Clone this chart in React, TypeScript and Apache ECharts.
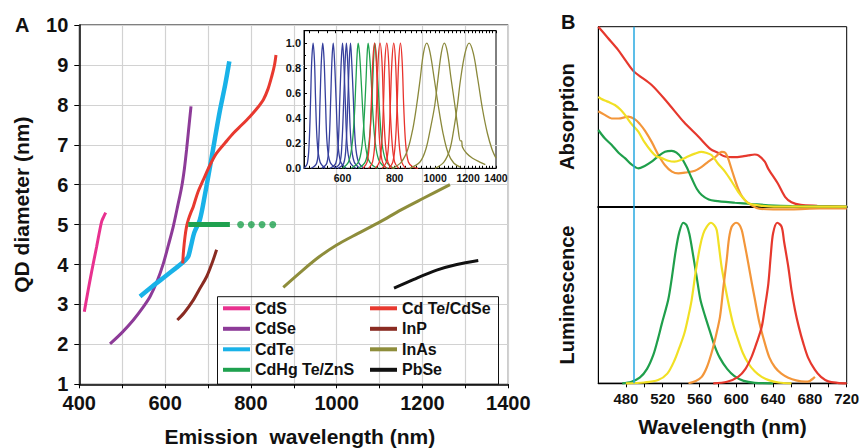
import React, { useEffect, useRef } from "react";
import * as echarts from "echarts";

// ---------------- Panel A: QD diameter vs emission wavelength ----------------
const cdS = [[411.7, 2.82], [418, 3.2], [425, 3.61], [433, 4.05], [440.5, 4.45], [447, 4.82], [452.2, 5.08], [457, 5.2], [461.5, 5.3]];
const cdSe = [[471.6, 2.01], [500, 2.3], [526, 2.61], [548, 2.92], [565, 3.2], [582, 3.6], [596, 4.03], [608, 4.5], [619, 4.95], [630, 5.5], [638.7, 5.95], [645, 6.4], [650, 6.87], [655, 7.4], [660.4, 7.96]];
const cdTe = [[541.5, 3.2], [570, 3.45], [600, 3.7], [625, 3.91], [639, 4.03], [648, 4.12], [654, 4.2], [660, 4.45], [668, 4.8], [681, 5.12], [692, 5.7], [704.7, 6.45], [716, 7.15], [728, 7.87], [740, 8.5], [749.7, 9.09]];
const cdTeCdSe = [[641, 4.03], [643, 4.35], [646.4, 4.7], [650, 4.95], [654, 5.12], [660, 5.3], [665.7, 5.45], [676, 5.8], [689, 6.12], [705, 6.5], [720, 6.79], [740, 7.05], [759, 7.29], [779, 7.5], [798, 7.71], [815, 7.92], [829, 8.13], [840, 8.4], [848.5, 8.71], [855, 9.0], [858.5, 9.25]];
const cdHgTeLine = [[654, 5], [751, 5]];
const cdHgTeDots = [[776, 5], [801, 5], [826, 5], [851, 5]];
const inP = [[628.5, 2.61], [645, 2.8], [665.7, 3.11], [680, 3.38], [697, 3.7], [710, 4.05], [720, 4.37]];
const inAs = [[875.5, 3.43], [920, 3.85], [960, 4.2], [1000, 4.49], [1050, 4.78], [1101, 5.07], [1150, 5.37], [1202, 5.66], [1264, 6.0]];
const pbSe = [[1133.6, 3.41], [1180, 3.63], [1233, 3.86], [1280, 4.0], [1330, 4.1]];

const legendColumnLeft = ["CdS", "CdSe", "CdTe", "CdHg Te/ZnS"];
const legendColumnRight = ["Cd Te/CdSe", "InP", "InAs", "PbSe"];

// ---------------- Inset: normalized emission spectra (log wavelength axis) ----------------
const insetBlue = [
  [[485, 0.0], [494, 0.04], [499, 0.2], [503, 0.55], [506, 0.85], [510, 1.0], [514, 0.85], [517, 0.55], [522, 0.2], [530, 0.05], [545, 0.0]],
  [[505, 0.0], [520, 0.04], [526, 0.2], [530, 0.55], [534, 0.87], [538, 1.0], [542, 0.86], [546, 0.55], [551, 0.2], [560, 0.05], [578, 0.0]],
  [[535, 0.0], [550, 0.04], [557, 0.2], [562, 0.55], [566, 0.87], [570, 1.0], [574, 0.86], [579, 0.55], [585, 0.2], [594, 0.05], [612, 0.0]],
  [[560, 0.0], [578, 0.04], [586, 0.2], [591, 0.55], [596, 0.87], [600, 1.0], [604, 0.86], [609, 0.55], [615, 0.2], [625, 0.05], [645, 0.0]],
  [[575, 0.0], [591, 0.04], [598, 0.2], [604, 0.55], [609, 0.87], [613, 1.0], [617, 0.86], [622, 0.55], [629, 0.2], [640, 0.05], [660, 0.0]],
  [[585, 0.0], [604, 0.04], [612, 0.2], [618, 0.55], [623, 0.87], [627, 1.0], [631, 0.86], [637, 0.55], [644, 0.2], [655, 0.05], [675, 0.0]],
];
const insetGreen = [
  [[600, 0.0], [620, 0.05], [632, 0.18], [640, 0.4], [646, 0.7], [650, 0.9], [654, 1.0], [659, 0.92], [665, 0.7], [672, 0.42], [680, 0.2], [692, 0.07], [710, 0.02], [730, 0.0]],
  [[630, 0.0], [655, 0.05], [668, 0.18], [676, 0.4], [683, 0.7], [687, 0.9], [691, 1.0], [696, 0.92], [703, 0.7], [710, 0.42], [719, 0.2], [732, 0.07], [750, 0.02], [770, 0.0]],
  [[655, 0.0], [680, 0.05], [693, 0.18], [702, 0.4], [709, 0.7], [713, 0.9], [717, 1.0], [722, 0.92], [729, 0.7], [737, 0.42], [746, 0.2], [760, 0.07], [778, 0.02], [800, 0.0]],
];
const insetRed = [
  [[672, 0], [687, 0.05], [696, 0.2], [703, 0.5], [709, 0.85], [716, 1], [723, 0.85], [729, 0.5], [737, 0.2], [748, 0.05], [765, 0]],
  [[693, 0], [708, 0.05], [717, 0.2], [724, 0.5], [730, 0.85], [738, 1], [746, 0.85], [752, 0.5], [760, 0.2], [771, 0.05], [788, 0]],
  [[719, 0], [735, 0.05], [745, 0.2], [752, 0.5], [758, 0.85], [766, 1], [774, 0.85], [780, 0.5], [789, 0.2], [800, 0.05], [818, 0]],
  [[747, 0], [764, 0.05], [774, 0.2], [781, 0.5], [788, 0.85], [796, 1], [804, 0.85], [811, 0.5], [820, 0.2], [832, 0.05], [850, 0]],
  [[775, 0], [792, 0.05], [803, 0.2], [811, 0.5], [818, 0.85], [826, 1], [834, 0.85], [841, 0.5], [850, 0.2], [863, 0.05], [885, 0.01], [910, 0]],
];
const insetOlive = [
  [[790, 0.0], [830, 0.05], [860, 0.15], [885, 0.32], [903, 0.5], [920, 0.7], [938, 0.92], [955, 1.0], [972, 0.93], [995, 0.72], [1018, 0.5], [1045, 0.28], [1075, 0.12], [1110, 0.04], [1150, 0.01]],
  [[870, 0.0], [920, 0.05], [950, 0.15], [975, 0.32], [998, 0.5], [1015, 0.7], [1035, 0.92], [1052, 1.0], [1070, 0.93], [1092, 0.72], [1116, 0.5], [1135, 0.32], [1150, 0.22], [1158, 0.22], [1163, 0.17], [1190, 0.12], [1230, 0.08], [1280, 0.05], [1320, 0.03]],
  [[1000, 0.0], [1050, 0.05], [1085, 0.15], [1110, 0.32], [1131, 0.5], [1150, 0.7], [1180, 0.92], [1207, 1.0], [1235, 0.92], [1265, 0.72], [1300, 0.47], [1335, 0.28], [1370, 0.15], [1400, 0.08]],
];
const insetXLabels = [600, 800, 1000, 1200, 1400];
const insetXMin = 485;
const insetXMax = 1400;

// ---------------- Panel B: absorption and luminescence ----------------
const absGreen = [[450, 0.426], [457, 0.38], [464.6, 0.343], [472, 0.3], [479, 0.27], [486, 0.235], [493.5, 0.213], [500, 0.225], [508, 0.25], [515, 0.28], [522.5, 0.305], [529.8, 0.31], [535, 0.3], [540.6, 0.27], [546, 0.22], [551.5, 0.158], [557, 0.1], [562.4, 0.065], [570, 0.04], [577, 0.032], [598.6, 0.022], [616.7, 0.015], [634.8, 0.008], [660, 0.003], [720, 0.0]];
const absYellow = [[450, 0.61], [453, 0.6], [457, 0.59], [462, 0.58], [468, 0.565], [474, 0.54], [479, 0.51], [486, 0.46], [493.5, 0.417], [500, 0.36], [508, 0.305], [513, 0.28], [519, 0.27], [526, 0.255], [533, 0.25], [540, 0.26], [548, 0.28], [555, 0.295], [562, 0.305], [567, 0.3], [573, 0.287], [580, 0.24], [587.7, 0.195], [595, 0.14], [602, 0.083], [608, 0.045], [613, 0.02], [620, 0.01], [627.6, 0.005], [650, 0.0], [720, 0.0]];
const absOrange = [[450, 0.53], [457, 0.51], [464.5, 0.49], [472, 0.49], [482.6, 0.5], [490, 0.485], [495, 0.46], [501, 0.42], [508, 0.36], [515, 0.29], [522.5, 0.23], [530, 0.195], [537, 0.185], [545, 0.19], [555, 0.2], [562, 0.22], [569.6, 0.25], [578, 0.28], [584, 0.305], [588, 0.3], [591, 0.27], [596, 0.19], [602, 0.1], [607, 0.05], [613, 0.02], [624, -0.01], [640, -0.015], [660, -0.015], [690, -0.01], [720, -0.01]];
const absRed = [[450, 1.0], [460, 0.94], [471.7, 0.87], [480, 0.81], [489, 0.75], [508, 0.676], [525, 0.58], [543, 0.47], [558.7, 0.39], [572, 0.32], [580, 0.3], [587, 0.28], [598.6, 0.275], [607, 0.28], [613, 0.285], [620, 0.29], [624, 0.285], [631, 0.25], [634.8, 0.21], [645, 0.13], [653, 0.055], [660, 0.025], [670, 0.01], [688, 0.005], [720, 0.0]];

const lumGreen = [[476, 0], [486, 0.01], [495, 0.035], [503, 0.09], [510, 0.18], [515, 0.28], [519, 0.37], [526, 0.52], [530, 0.66], [534, 0.82], [538, 0.94], [542.4, 1.0], [546, 0.985], [549, 0.93], [553, 0.8], [557, 0.66], [561, 0.52], [566, 0.42], [571, 0.33], [576, 0.24], [582, 0.16], [590, 0.09], [598, 0.045], [608, 0.015], [620, 0.003], [640, 0]];
const lumYellow = [[480, 0], [500, 0.005], [515, 0.02], [525, 0.06], [533, 0.145], [538, 0.22], [543.5, 0.31], [548, 0.42], [551.5, 0.52], [556, 0.7], [560.5, 0.85], [564, 0.93], [567.8, 0.975], [572.5, 1.0], [576, 0.985], [578.7, 0.955], [581, 0.86], [584, 0.726], [588, 0.6], [593, 0.457], [597, 0.36], [602, 0.27], [607, 0.19], [613, 0.125], [620, 0.075], [627.6, 0.04], [636, 0.018], [646, 0.005], [660, 0.0]];
const lumOrange = [[548, 0], [556, 0.015], [562.4, 0.04], [568, 0.1], [573, 0.187], [578, 0.3], [582.3, 0.415], [586, 0.6], [589.6, 0.77], [592, 0.9], [595, 0.975], [599.7, 1.0], [603, 0.99], [605.9, 0.955], [609, 0.87], [613, 0.748], [617, 0.62], [620.3, 0.52], [625, 0.38], [631, 0.25], [636, 0.16], [642, 0.1], [649, 0.06], [656.5, 0.035], [665, 0.018], [674.7, 0.01], [680, 0.015], [685.5, 0.04]];
const lumRed = [[575, 0], [590, 0.01], [602, 0.04], [610, 0.09], [616.7, 0.166], [622, 0.25], [627.6, 0.35], [631, 0.47], [634.8, 0.62], [637.5, 0.8], [640, 0.935], [644.6, 1.0], [649.3, 0.975], [652, 0.88], [656.5, 0.726], [660, 0.58], [663.8, 0.457], [668, 0.35], [672.8, 0.25], [678, 0.16], [685.5, 0.083], [692, 0.04], [700, 0.012], [710, 0.003], [720, 0]];

const bWavelengthLabels = [480, 520, 560, 600, 640, 680, 720];
const bWavelengthTicks = [480, 500, 520, 540, 560, 580, 600, 620, 640, 660, 680, 700, 720];
const excitationNm = 489;

const FONT = '"Liberation Sans", Arial, Helvetica, sans-serif';
const GRID_GRAY = "#d2d2d2";

const C = {
  cdS: "#e8318f",
  cdSe: "#8d3b98",
  cdTe: "#19b2e8",
  cdTeCdSe: "#e8392f",
  cdHg: "#1fa14f",
  inP: "#8a2b22",
  inAs: "#8e8d3b",
  pbSe: "#111111",
  blue: "#353f9c",
  green: "#1fa24e",
  red: "#e8322c",
  olive: "#8a883a",
  bGreen: "#1f9f4b",
  bYellow: "#f1e024",
  bOrange: "#f3963a",
  bRed: "#e6382d",
  cyan: "#27a9e1",
};

const toLn = (pts: number[][]) => pts.map(([x, y]) => [Math.log(x), y]);

function buildOption() {
  const insetTicks: number[] = [];
  for (let v = 500; v <= 1400; v += 25) insetTicks.push(Math.log(v));

  const mainLine = (name: string, data: number[][], color: string, width: number) => ({
    type: "line",
    name,
    data,
    xAxisIndex: 0,
    yAxisIndex: 0,
    smooth: 0.3,
    showSymbol: false,
    symbol: "none",
    lineStyle: { color, width, cap: "butt" },
    itemStyle: { color },
    z: 3,
  });

  const insetLine = (data: number[][], color: string) => ({
    type: "line",
    data: toLn(data),
    xAxisIndex: 1,
    yAxisIndex: 1,
    smooth: 0.35,
    showSymbol: false,
    symbol: "none",
    lineStyle: { color, width: 1.3 },
    itemStyle: { color },
    z: 4,
  });

  const bLine = (data: number[][], color: string, grid: number, extra: any = {}) => ({
    type: "line",
    data,
    xAxisIndex: grid === 2 ? 3 : 4,
    yAxisIndex: grid === 2 ? 2 : 3,
    smooth: 0.3,
    showSymbol: false,
    symbol: "none",
    clip: false,
    lineStyle: { color, width: 2.2 },
    itemStyle: { color },
    z: 3,
    ...extra,
  });

  const cyanMark = {
    symbol: "none",
    silent: true,
    label: { show: false },
    lineStyle: { color: C.cyan, width: 1.5, type: "solid" },
    data: [{ xAxis: excitationNm }],
  };

  const bold = { fontFamily: FONT, fontWeight: "bold", color: "#111" };

  return {
    animation: false,
    backgroundColor: "#ffffff",
    textStyle: { fontFamily: FONT },
    grid: [
      { left: 79.3, top: 25, width: 429, height: 359.3, show: true, borderColor: "#000", borderWidth: 1, backgroundColor: "transparent", outerBoundsMode: "none", containLabel: false },
      { left: 304, top: 30.7, width: 192, height: 137.6, show: true, borderColor: "#000", borderWidth: 1, backgroundColor: "transparent", outerBoundsMode: "none", containLabel: false },
      { left: 598.3, top: 26.7, width: 248.4, height: 180, show: true, borderColor: "#000", borderWidth: 1, backgroundColor: "transparent", outerBoundsMode: "none", containLabel: false },
      { left: 598.3, top: 206.7, width: 248.4, height: 176.6, show: true, borderColor: "#000", borderWidth: 1, backgroundColor: "transparent", outerBoundsMode: "none", containLabel: false },
    ],
    xAxis: [
      {
        gridIndex: 0,
        type: "value",
        min: 400,
        max: 1400,
        interval: 200,
        axisLine: { show: true, lineStyle: { color: "#000", width: 1.5 } },
        axisTick: { show: true, length: 4, lineStyle: { color: "#000" } },
        minorTick: { show: true, splitNumber: 2, length: 4, lineStyle: { color: "#000" } },
        splitLine: { show: true, lineStyle: { color: GRID_GRAY, width: 1.2 } },
        minorSplitLine: { show: true, lineStyle: { color: GRID_GRAY, width: 1.2 } },
        axisLabel: { ...bold, fontSize: 20, margin: 9, formatter: (v: number) => String(v) },
        name: "Emission  wavelength (nm)",
        nameLocation: "middle",
        nameGap: 42,
        nameTextStyle: { ...bold, fontSize: 21, padding: [0, 0, 0, 12] },
      },
      {
        gridIndex: 1,
        type: "value",
        min: Math.log(insetXMin),
        max: Math.log(insetXMax),
        axisLine: { show: true, lineStyle: { color: "#000", width: 1 } },
        axisTick: { show: true, inside: true, length: 2.5, customValues: insetTicks, lineStyle: { color: "#000" } },
        splitLine: { show: false },
        axisLabel: {
          ...bold,
          fontSize: 10.5,
          margin: 4,
          customValues: insetXLabels.map((v) => Math.log(v)),
          formatter: (v: number) => String(Math.round(Math.exp(v))),
        },
      },
      {
        gridIndex: 1,
        type: "value",
        position: "top",
        min: Math.log(insetXMin),
        max: Math.log(insetXMax),
        axisLine: { show: true, lineStyle: { color: "#000", width: 1 } },
        axisTick: { show: true, inside: true, length: 2.5, customValues: insetTicks, lineStyle: { color: "#000" } },
        splitLine: { show: false },
        axisLabel: { show: false },
      },
      {
        gridIndex: 2,
        type: "value",
        min: 450,
        max: 720,
        axisLine: { show: true, onZero: false, lineStyle: { color: "#000", width: 2.2 } },
        axisTick: { show: false },
        axisLabel: { show: false },
        splitLine: { show: false },
      },
      {
        gridIndex: 3,
        type: "value",
        min: 450,
        max: 720,
        axisLine: { show: true, onZero: false, lineStyle: { color: "#000", width: 1.3 } },
        axisTick: { show: true, length: 4, customValues: bWavelengthTicks, lineStyle: { color: "#000" } },
        splitLine: { show: false },
        axisLabel: { ...bold, fontSize: 15, margin: 8, customValues: bWavelengthLabels },
        name: "Wavelength (nm)",
        nameLocation: "middle",
        nameGap: 33,
        nameTextStyle: { ...bold, fontSize: 21 },
      },
    ],
    yAxis: [
      {
        gridIndex: 0,
        type: "value",
        min: 1,
        max: 10,
        interval: 1,
        axisLine: { show: true, lineStyle: { color: "#000", width: 1.5 } },
        axisTick: { show: true, length: 5, lineStyle: { color: "#000" } },
        splitLine: { show: true, lineStyle: { color: GRID_GRAY, width: 1.2 } },
        axisLabel: { ...bold, fontSize: 20, margin: 11 },
        name: "QD diameter (nm)",
        nameLocation: "middle",
        nameGap: 47,
        nameTextStyle: { ...bold, fontSize: 21 },
      },
      {
        gridIndex: 1,
        type: "value",
        min: 0,
        max: 1.1,
        interval: 0.2,
        axisLine: { show: true, lineStyle: { color: "#000", width: 1 } },
        axisTick: { show: true, inside: true, length: 3, lineStyle: { color: "#000" } },
        minorTick: { show: true, splitNumber: 2, length: 2, lineStyle: { color: "#000" } },
        splitLine: { show: false },
        axisLabel: { ...bold, fontSize: 11, margin: 3, showMaxLabel: false, formatter: (v: number) => v.toFixed(1) },
      },
      {
        gridIndex: 2,
        type: "value",
        min: 0,
        max: 1,
        axisLine: { show: true, onZero: false, lineStyle: { color: "#000", width: 1 } },
        axisTick: { show: false },
        axisLabel: { show: false },
        splitLine: { show: false },
        name: "Absorption",
        nameLocation: "middle",
        nameGap: 21,
        nameTextStyle: { ...bold, fontSize: 20 },
      },
      {
        gridIndex: 3,
        type: "value",
        min: 0,
        max: 1.1,
        axisLine: { show: true, onZero: false, lineStyle: { color: "#000", width: 1 } },
        axisTick: { show: false },
        axisLabel: { show: false },
        splitLine: { show: false },
        name: "Luminescence",
        nameLocation: "middle",
        nameGap: 21,
        nameTextStyle: { ...bold, fontSize: 20 },
      },
    ],
    legend: [
      {
        data: legendColumnLeft,
        left: 223,
        top: 300.3,
        orient: "vertical",
        icon: "rect",
        itemWidth: 27,
        itemHeight: 4,
        itemGap: 4.5,
        selectedMode: false,
        padding: 0,
        textStyle: { ...bold, fontSize: 16 },
      },
      {
        data: legendColumnRight,
        left: 370,
        top: 300.3,
        orient: "vertical",
        icon: "rect",
        itemWidth: 27,
        itemHeight: 4,
        itemGap: 4.5,
        selectedMode: false,
        padding: 0,
        textStyle: { ...bold, fontSize: 16 },
      },
    ],
    graphic: [
      { type: "text", left: 15, top: 15, style: { text: "A", font: `bold 20px ${FONT}`, fill: "#111" } },
      { type: "text", left: 561, top: 12, style: { text: "B", font: `bold 20px ${FONT}`, fill: "#111" } },
      {
        type: "rect",
        shape: { x: 217.5, y: 296.7, width: 281, height: 87.6 },
        style: { fill: "none", stroke: "#111", lineWidth: 1 },
        z: 5,
        silent: true,
      },
    ],
    series: [
      mainLine("CdS", cdS, C.cdS, 3),
      mainLine("CdSe", cdSe, C.cdSe, 3),
      mainLine("CdTe", cdTe, C.cdTe, 4.5),
      mainLine("Cd Te/CdSe", cdTeCdSe, C.cdTeCdSe, 3),
      { ...mainLine("CdHg Te/ZnS", cdHgTeLine, C.cdHg, 5), smooth: false },
      {
        type: "scatter",
        name: "CdHg Te/ZnS",
        data: cdHgTeDots,
        xAxisIndex: 0,
        yAxisIndex: 0,
        symbol: "circle",
        symbolSize: 7,
        itemStyle: { color: C.cdHg },
        z: 3,
      },
      mainLine("InP", inP, C.inP, 3),
      mainLine("InAs", inAs, C.inAs, 3),
      mainLine("PbSe", pbSe, C.pbSe, 3),
      ...insetBlue.map((d) => insetLine(d, C.blue)),
      ...insetGreen.map((d) => insetLine(d, C.green)),
      ...insetRed.map((d) => insetLine(d, C.red)),
      ...insetOlive.map((d) => insetLine(d, C.olive)),
      bLine(absRed, C.bRed, 2, { markLine: cyanMark }),
      bLine(absOrange, C.bOrange, 2),
      bLine(absGreen, C.bGreen, 2),
      bLine(absYellow, C.bYellow, 2),
      bLine(lumGreen, C.bGreen, 3, { markLine: cyanMark }),
      bLine(lumYellow, C.bYellow, 3),
      bLine(lumOrange, C.bOrange, 3),
      bLine(lumRed, C.bRed, 3),
    ],
  };
}

export default function App() {
  const ref = useRef<HTMLDivElement | null>(null);
  useEffect(() => {
    if (!ref.current) return;
    const chart = echarts.init(ref.current, undefined, { renderer: "svg" });
    chart.setOption(buildOption() as any);
    return () => chart.dispose();
  }, []);
  return (
    <div
      ref={ref}
      style={{ position: "fixed", left: 0, top: 0, width: 861, height: 448, background: "#fff" }}
    />
  );
}
